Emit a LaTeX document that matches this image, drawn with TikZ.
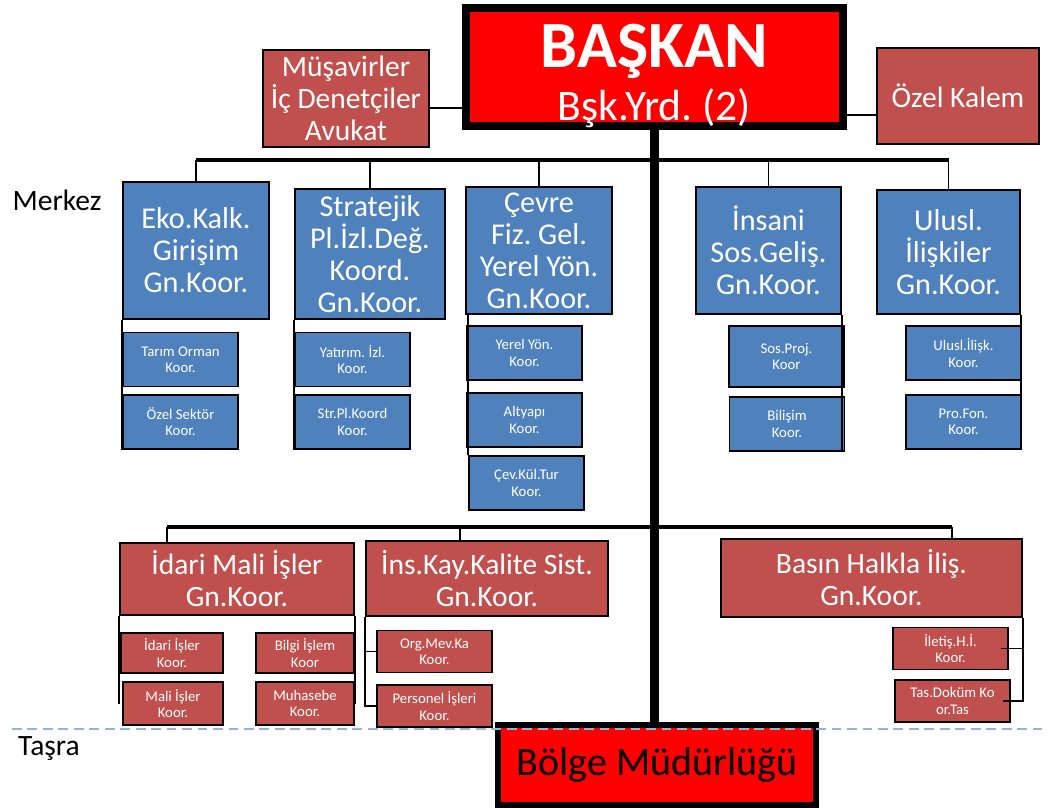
\documentclass[tikz,border=0pt]{standalone}
\usepackage{fontspec}
\setmainfont{Carlito}
\frenchspacing
\definecolor{koorblue}{RGB}{79,129,189}
\definecolor{koorred}{RGB}{192,80,77}
\definecolor{lineblue}{RGB}{149,179,215}
\usetikzlibrary{positioning, calc}

\begin{document}
\begin{tikzpicture}[
    head/.style={rectangle, draw=black, line width=5.7pt, fill=red, inner sep=0pt, minimum width=9.425cm, minimum height=2.95cm, align=center, text=white},
    side/.style={rectangle, draw=black, line width=0.9pt, fill=koorred, inner sep=0pt, align=center, text=white, font=\fontsize{21}{22.7}\selectfont},
    koor/.style={rectangle, draw=black, line width=1.2pt, fill=koorblue, inner sep=0pt, align=center, text=white, font=\fontsize{21.5}{22.7}\selectfont},
    subblue/.style={koor, minimum width=2.875cm, minimum height=1.35cm, font=\fontsize{10.5}{11.5}\selectfont},
    redhead/.style={side, line width=1.2pt},
    subred/.style={redhead, minimum width=2.875cm, minimum height=1.05cm, font=\fontsize{10.5}{11.5}\selectfont},
    bus/.style={line width=3.5pt},
    drop/.style={line width=1.3pt},
    trunk/.style={line width=6.4pt}
]
    \useasboundingbox (0,0) rectangle (26.2,-20.2);

    % top level
    \node[head, font=\fontsize{31}{37.7}\selectfont] (baskan) at (16.36,-1.675) {\rule{0pt}{38pt}{\fontsize{47}{50}\selectfont\bfseries BAŞKAN}\\\smash{Bşk.Yrd. (2)}};
    \node[side, minimum width=4.15cm, minimum height=2.425cm] (musavir) at (8.65,-2.4625) {Müşavirler\\İç Denetçiler\\Avukat};
    \node[side, minimum width=4.05cm, minimum height=2.4cm] (ozelkalem) at (23.95,-2.4) {Özel Kalem};

    \node[font=\fontsize{21}{24}\selectfont] (merkez) at (1.425,-5.0) {Merkez};
    \node[font=\fontsize{21}{24}\selectfont] (tasra) at (1.225,-18.7) {Taşra};

    % blue coordinators
    \node[koor, minimum width=3.65cm, minimum height=3.425cm] (eko) at (4.9,-6.2625) {Eko.Kalk.\\Girişim\\Gn.Koor.};
    \node[koor, minimum width=3.75cm, minimum height=3.25cm] (strat) at (9.25,-6.35) {Stratejik\\Pl.İzl.Değ.\\Koord.\\Gn.Koor.};
    \node[koor, minimum width=3.65cm, minimum height=3.175cm] (cevre) at (13.475,-6.2625) {Çevre\\Fiz. Gel.\\Yerel Yön.\\Gn.Koor.};
    \node[koor, minimum width=3.625cm, minimum height=3.175cm] (insani) at (19.2125,-6.2625) {İnsani\\Sos.Geliş.\\Gn.Koor.};
    \node[koor, minimum width=3.575cm, minimum height=3.1cm] (ulusl) at (23.7125,-6.3) {Ulusl.\\İlişkiler\\Gn.Koor.};

    \node[subblue] (tarim) at (4.5125,-8.9875) {Tarım Orman\\Koor.};
    \node[subblue] (ozelsektor) at (4.5125,-10.55) {Özel Sektör\\Koor.};
    \node[subblue] (yatirim) at (8.8125,-8.9875) {Yatırım. İzl.\\Koor.};
    \node[subblue] (strpl) at (8.8125,-10.55) {Str.Pl.Koord\\Koor.};
    \node[subblue] (yerelyon) at (13.1125,-8.825) {Yerel Yön.\\Koor.};
    \node[subblue] (altyapi) at (13.1125,-10.5) {Altyapı\\Koor.};
    \node[subblue] (cevkul) at (13.1625,-12.075) {Çev.Kül.Tur\\Koor.};
    \node[subblue, minimum height=1.525cm] (sosproj) at (19.6625,-8.9125) {Sos.Proj.\\Koor};
    \node[subblue] (bilisim) at (19.675,-10.6) {Bilişim\\Koor.};
    \node[subblue] (ulusliliski) at (24.0875,-8.825) {Ulusl.İlişk.\\Koor.};
    \node[subblue] (profon) at (24.0875,-10.55) {Pro.Fon.\\Koor.};

    % red coordinators
    \node[redhead, minimum width=5.85cm, minimum height=1.8cm] (idari) at (5.925,-14.475) {İdari Mali İşler\\Gn.Koor.};
    \node[redhead, minimum width=6.05cm, minimum height=1.875cm] (inskay) at (12.175,-14.4625) {İns.Kay.Kalite Sist.\\Gn.Koor.};
    \node[redhead, minimum width=7.525cm, minimum height=1.95cm] (basin) at (21.7875,-14.45) {Basın Halkla İliş.\\Gn.Koor.};

    \node[subred, minimum width=2.55cm, minimum height=1.0cm] (idariisler) at (4.3,-16.325) {İdari İşler\\Koor.};
    \node[subred, minimum width=2.45cm, minimum height=1.0cm] (bilgiislem) at (7.625,-16.325) {Bilgi İşlem\\Koor};
    \node[subred, minimum width=2.5cm, minimum height=1.075cm] (maliisler) at (4.325,-17.5875) {Mali İşler\\Koor.};
    \node[subred, minimum width=2.45cm, minimum height=1.075cm] (muhasebe) at (7.625,-17.5875) {Muhasebe\\Koor.};
    \node[subred] (orgmev) at (10.8625,-16.2875) {Org.Mev.Ka\\Koor.};
    \node[subred] (personel) at (10.8625,-17.65) {Personel İşleri\\Koor.};
    \node[subred] (iletis) at (23.7625,-16.2125) {İletiş.H.İ.\\Koor.};
    \node[subred] (tasdok) at (23.8125,-17.525) {Tas.Doküm Ko\\or.Tas};

    \node[head, line width=4.3pt, minimum width=7.95cm, minimum height=2.0cm, text=black, font=\fontsize{28.5}{32}\selectfont] (bolge) at (16.425,-19.125) {Bölge Müdürlüğü};

    % connectors
    \coordinate (bus1) at (0,-4.0);
    \coordinate (bus2) at (0,-13.175);
    \coordinate (d1) at ([xshift=1.2cm]idari.north west);
    \coordinate (d2) at ([xshift=2.375cm]inskay.north west);
    \coordinate (d3) at ([xshift=-1.775cm]basin.north east);

    \draw[line width=1pt] ([yshift=-0.2375cm]musavir.east) coordinate (m1) -- (m1 -| baskan.west);
    \draw[line width=1pt] ([yshift=-0.475cm]ozelkalem.west) coordinate (o1) -- (o1 -| baskan.east);
    \draw[trunk] (baskan.south) -- (baskan.south |- bolge.north);

    \draw[bus] (eko.north |- bus1) -- (ulusl.north |- bus1);
    \foreach \n in {eko, strat, cevre, insani, ulusl}
        \draw[drop] (\n.north) -- (\n.north |- bus1);

    \draw[bus] (d1 |- bus2) -- (d3 |- bus2);
    \foreach \d in {d1, d2, d3}
        \draw[drop] (\d) -- (\d |- bus2);

    \draw[drop] (eko.south west) -- (eko.south west |- ozelsektor.south);
    \draw[drop] (strat.south west) -- (strat.south west |- strpl.south);
    \draw[drop] (cevkul.north west |- cevre.south) -- (cevkul.north west);
    \draw[drop] (insani.south east) -- (insani.south east |- bilisim.south);
    \draw[drop] (ulusl.south east) -- (ulusl.south east |- profon.south);

    \draw[drop] (idari.south west) -- (idari.south west |- maliisler.center);
    \draw[drop] (idari.south east) -- (idari.south east |- muhasebe.center);
    \draw[drop] (inskay.south west) |- (personel.west);
    \draw[drop] (inskay.south west |- orgmev.west) -- (orgmev.west);
    \draw[drop] (basin.south east) |- ([xshift=-0.2cm]tasdok.east);
    \draw[drop] (basin.south east |- iletis.east) -- ([xshift=-0.2cm]iletis.east);

    \draw[lineblue, line width=2pt, dash pattern=on 7pt off 4pt] (0.3,-18.225) -- (26.2,-18.225);
\end{tikzpicture}
\end{document}
